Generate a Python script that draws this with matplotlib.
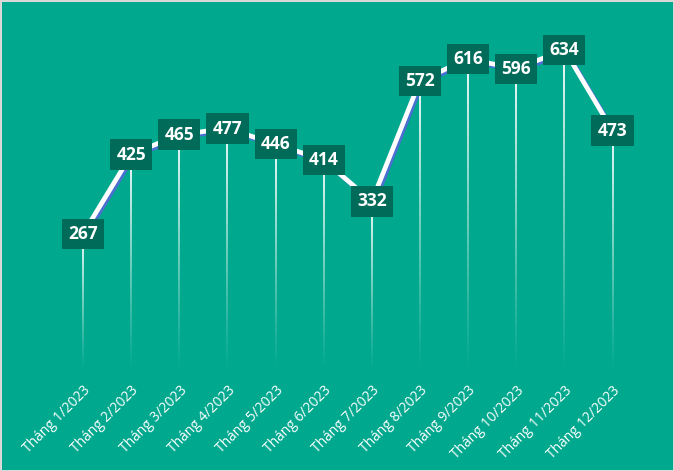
import matplotlib.pyplot as plt
import matplotlib.transforms as mtransforms
import numpy as np

months = ["Tháng 1/2023", "Tháng 2/2023", "Tháng 3/2023", "Tháng 4/2023",
          "Tháng 5/2023", "Tháng 6/2023", "Tháng 7/2023", "Tháng 8/2023",
          "Tháng 9/2023", "Tháng 10/2023", "Tháng 11/2023", "Tháng 12/2023"]
values = [267, 425, 465, 477, 446, 414, 332, 572, 616, 596, 634, 473]

bg = "#00A88E"
box_color = "#006B58"

plt.rcParams['font.family'] = ['Open Sans', 'DejaVu Sans']

fig = plt.figure(figsize=(6.74, 4.71), dpi=100, facecolor=bg,
                 edgecolor="#D9D9D9", linewidth=2)
ax = fig.add_axes([0.0875, 0.219, 0.857, 0.751])
ax.set_facecolor(bg)

x = np.arange(len(values))

# Drop lines, fading out towards the bottom
n = 40
for xi, v in zip(x, values):
    ys = np.linspace(v, 0, n + 1)
    for k in range(n):
        a = 0.95 * (1 - k / n) ** 1.1
        ax.plot([xi, xi], [ys[k], ys[k + 1]], color="white", alpha=a,
                lw=1.4, solid_capstyle="butt", zorder=1)

# Blue shadow line offset right/down
shadow = mtransforms.offset_copy(ax.transData, fig=fig, x=2, y=-2, units="dots")
ax.plot(x, values, color="#4A6FD0", lw=3.4, transform=shadow, zorder=2,
        solid_capstyle="round")
ax.plot(x, values, color="white", lw=3.4, zorder=3, solid_capstyle="round")

for xi, v in zip(x, values):
    ax.text(xi, v, str(v), ha="center", va="center", color="white",
            fontsize=12.5, fontweight="bold", zorder=5,
            bbox=dict(boxstyle="square,pad=0.36", fc=box_color, ec="none"))

ax.set_xlim(-0.5, len(values) - 0.5)
ax.set_ylim(0, 705)
ax.set_yticks([])
ax.set_xticks(x)
ax.set_xticklabels(months, rotation=45, ha="right", va="top",
                   rotation_mode="anchor", color="white", fontsize=10)
ax.tick_params(axis="x", length=0, pad=11)
for s in ax.spines.values():
    s.set_visible(False)

fig.savefig("out.png", dpi=100, facecolor=bg, edgecolor="#D9D9D9")
